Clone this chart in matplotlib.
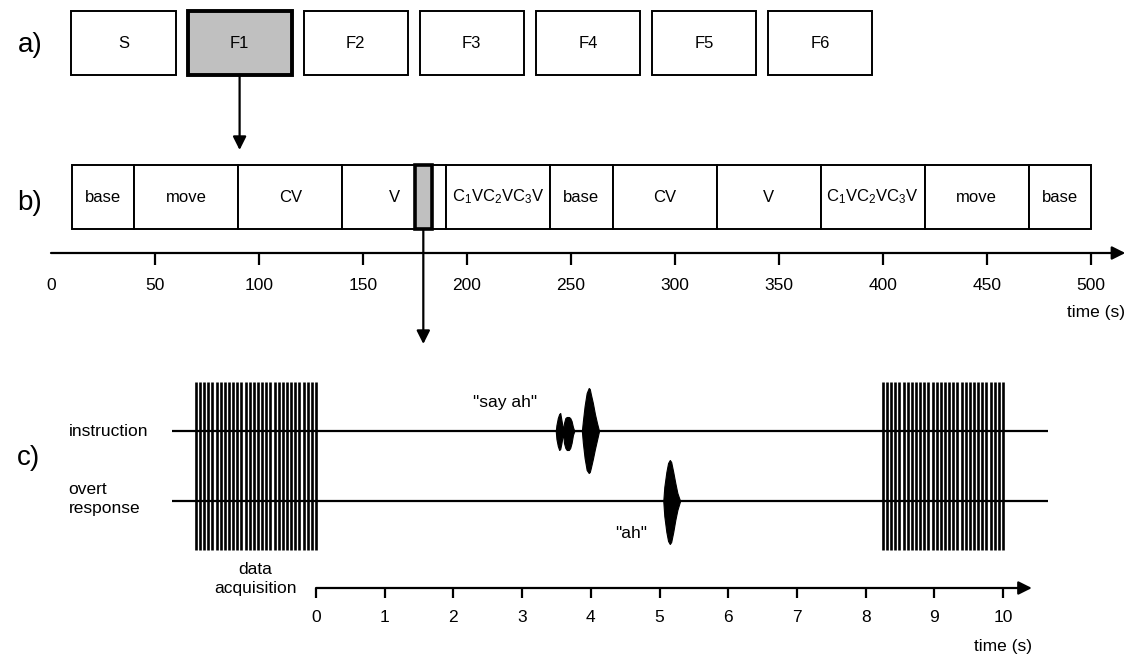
import numpy as np
import matplotlib.pyplot as plt
from matplotlib.patches import Rectangle

plt.rcParams['font.family'] = ['Liberation Sans', 'DejaVu Sans']
plt.rcParams['mathtext.fontset'] = 'custom'
plt.rcParams['mathtext.rm'] = 'Liberation Sans'
plt.rcParams['mathtext.it'] = 'Liberation Sans'
plt.rcParams['mathtext.default'] = 'regular'

# a) sessions
sessions = ['S', 'F1', 'F2', 'F3', 'F4', 'F5', 'F6']
selected_session = 1

# b) block design of one run (s)
block_labels = ['base', 'move', 'CV', 'V', r'C$_1$VC$_2$VC$_3$V', 'base',
                'CV', 'V', r'C$_1$VC$_2$VC$_3$V', 'move', 'base']
block_edges = [10, 40, 90, 140, 190, 240, 270, 320, 370, 420, 470, 500]
trial_window = (175, 183)
b_ticks = [0, 50, 100, 150, 200, 250, 300, 350, 400, 450, 500]

# c) one trial (s)
c_ticks = [0, 1, 2, 3, 4, 5, 6, 7, 8, 9, 10]
acq_windows = [(-1.75, 0.0), (8.25, 10.0)]
n_pulses = 30
line_span = (-2.1, 10.65)

# sound envelopes: time, height above / below the trace (px)
instr_t = [3.49, 3.50, 3.52, 3.54, 3.555, 3.57, 3.59, 3.60, 3.61, 3.63, 3.65, 3.68,
           3.70, 3.72, 3.74, 3.76, 3.87, 3.885, 3.91, 3.94, 3.97, 3.985, 4.00,
           4.03, 4.06, 4.09, 4.12]
instr_up = [0, 6, 13, 17, 18, 12, 4, 2, 8, 13, 14, 14, 13, 10, 4, 0,
            0, 10, 25, 38, 43, 42, 37, 28, 17, 8, 0]
instr_dn = [0, 8, 15, 19, 18, 13, 5, 4, 12, 17, 19, 19, 17, 12, 4, 0,
            0, 12, 27, 39, 42, 41, 37, 28, 18, 9, 0]
resp_t = [5.055, 5.07, 5.10, 5.125, 5.15, 5.17, 5.20, 5.23, 5.26, 5.30]
resp_up = [0, 14, 29, 38, 41, 39, 29, 18, 8, 0]
resp_dn = [0, 15, 31, 40, 43, 41, 31, 19, 9, 0]

W, H = 1126, 656
fig = plt.figure(figsize=(W / 100, H / 100), dpi=100)


def panel_axes(x0_px, px_per_unit):
    ax = fig.add_axes([0, 0, 1, 1])
    ax.set_xlim(-x0_px / px_per_unit, (W - x0_px) / px_per_unit)
    ax.set_ylim(H, 0)
    ax.axis('off')
    ax.patch.set_alpha(0)
    return ax


arrow = dict(arrowstyle='-|>', color='k', lw=1.6, mutation_scale=20,
             shrinkA=0, shrinkB=0)
fs = 12.5

# ---- a)
ax_a = panel_axes(123.5, 116.1)
bw = 0.896
for i, name in enumerate(sessions):
    sel = i == selected_session
    ax_a.add_patch(Rectangle((i - bw / 2, 11), bw, 64,
                             fc='#c0c0c0' if sel else 'white', ec='k',
                             lw=2.8 if sel else 1.4, zorder=2))
    ax_a.text(i, 43, name, ha='center', va='center', fontsize=fs - 0.5, zorder=3)
ax_a.annotate('', xy=(selected_session, 150), xytext=(selected_session, 75),
              arrowprops=arrow)
fig.text(30 / W, 1 - 45 / H, 'a)', fontsize=20, ha='center', va='center')

# ---- b)
ax_b = panel_axes(51, 2.08)
for lab, t0, t1 in zip(block_labels, block_edges[:-1], block_edges[1:]):
    ax_b.add_patch(Rectangle((t0, 165), t1 - t0, 64, fc='white', ec='k',
                             lw=1.4, zorder=2))
    ax_b.text((t0 + t1) / 2, 197, lab, ha='center', va='center',
              fontsize=fs - 0.5, zorder=3)
ax_b.add_patch(Rectangle((trial_window[0], 165), trial_window[1] - trial_window[0],
                         64, fc='#c0c0c0', ec='k', lw=2.6, zorder=4))
tmid = sum(trial_window) / 2
ax_b.annotate('', xy=(tmid, 344), xytext=(tmid, 229), arrowprops=arrow)
ax_b.annotate('', xy=(516.5, 253), xytext=(b_ticks[0], 253), arrowprops=arrow)
ax_b.vlines(b_ticks[1:], 253, 265, color='k', lw=1.6)
for t in b_ticks:
    ax_b.text(t, 285, str(t), ha='center', va='center', fontsize=fs)
ax_b.text(516.5, 313, 'time (s)', ha='right', va='center', fontsize=fs)
fig.text(30 / W, 1 - 203 / H, 'b)', fontsize=20, ha='center', va='center')

# ---- c)
ax_c = panel_axes(316, 68.7)
y_instr, y_resp = 431, 501
ax_c.hlines([y_instr, y_resp], *line_span, color='k', lw=1.6)
for a0, a1 in acq_windows:
    ax_c.vlines(np.linspace(a0, a1, n_pulses), 382, 550, color='k', lw=1.9)
ax_c.fill_between(instr_t, y_instr - np.array(instr_up), y_instr + np.array(instr_dn),
                  color='k', lw=0.8)
ax_c.fill_between(resp_t, y_resp - np.array(resp_up), y_resp + np.array(resp_dn),
                  color='k', lw=0.8)
ax_c.text(2.75, 402, '"say ah"', ha='center', va='center', fontsize=fs)
ax_c.text(4.58, 533, '"ah"', ha='center', va='center', fontsize=fs)
ax_c.text(-3.6, 432, 'instruction', ha='left', va='center', fontsize=fs)
ax_c.text(-3.6, 499, 'overt\nresponse', ha='left', va='center', fontsize=fs,
          linespacing=1.3)
ax_c.text(-0.88, 579, 'data\nacquisition', ha='center', va='center', fontsize=fs,
          linespacing=1.25)
ax_c.annotate('', xy=(10.42, 588), xytext=(c_ticks[0], 588), arrowprops=arrow)
ax_c.vlines(c_ticks, 588, 598, color='k', lw=1.6)
for t in c_ticks:
    ax_c.text(t, 618, str(t), ha='center', va='center', fontsize=fs)
ax_c.text(10.42, 647, 'time (s)', ha='right', va='center', fontsize=fs)
fig.text(28 / W, 1 - 458 / H, 'c)', fontsize=20, ha='center', va='center')

fig.savefig('out.png', dpi=100, facecolor='white')
